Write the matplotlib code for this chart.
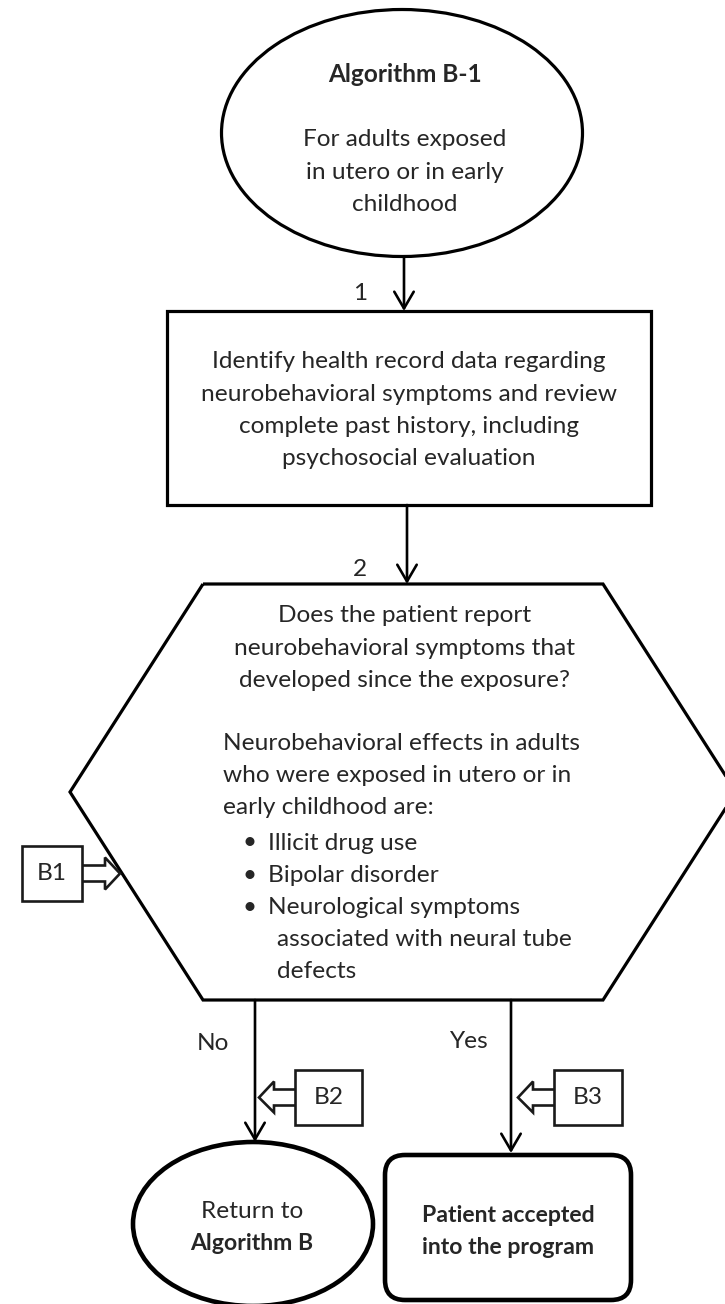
import matplotlib
matplotlib.use("Agg")
import matplotlib.pyplot as plt
from matplotlib.patches import Ellipse, Rectangle, FancyBboxPatch, Polygon

plt.rcParams["font.family"] = ["Lato", "DejaVu Sans"]

# texts of the flowchart
START_TITLE = "Algorithm B-1"
START_LINES = ["For adults exposed", "in utero or in early", "childhood"]
STEP1_LINES = ["Identify health record data regarding",
               "neurobehavioral symptoms and review",
               "complete past history, including",
               "psychosocial evaluation"]
QUESTION_LINES = ["Does the patient report",
                  "neurobehavioral symptoms that",
                  "developed since the exposure?"]
EFFECTS_LINES = ["Neurobehavioral effects in adults",
                 "who were exposed in utero or in",
                 "early childhood are:"]
BULLETS = [["Illicit drug use"], ["Bipolar disorder"],
           ["Neurological symptoms", "associated with neural tube", "defects"]]
STEP_LABELS = ["1", "2"]
BRANCH_LABELS = ["No", "Yes"]
REF_LABELS = ["B1", "B2", "B3"]
RETURN_LINES = ["Return to", "Algorithm B"]
ACCEPT_LINES = ["Patient accepted", "into the program"]

TXT = "#262626"
FS = 17.6
FS_END = 16.6  # bold text of the two end shapes
LH = 32.2

fig = plt.figure(figsize=(7.25, 13.04), dpi=100)
ax = fig.add_axes([0, 0, 1, 1])
ax.set_xlim(0, 725)
ax.set_ylim(1304, 0)
ax.axis("off")


def lines(x, y0, items, ha="center", weight="normal", fs=FS):
    for i, s in enumerate(items):
        ax.text(x, y0 + i * LH, s, ha=ha, va="center", fontsize=fs,
                color=TXT, fontweight=weight)


def arrow(x, y0, y1):
    ax.annotate("", xy=(x, y1), xytext=(x, y0),
                arrowprops=dict(arrowstyle="->,head_length=0.6,head_width=0.35",
                                lw=1.9, color="black", shrinkA=0, shrinkB=0,
                                mutation_scale=20))


def ref_box(label, x0, y0, w, h, side, tip_x):
    # box plus hollow block arrow
    ax.add_patch(Rectangle((x0, y0), w, h, fill=False, lw=1.9, ec="#1a1a1a"))
    yc = y0 + h / 2
    if side == "left":
        base = x0 - 21
        pts = [(x0, yc - 8), (base, yc - 8), (base, yc - 16), (tip_x, yc),
               (base, yc + 15), (base, yc + 8), (x0, yc + 8)]
    else:
        xr = x0 + w
        base = tip_x - 15
        pts = [(xr, yc - 8), (base, yc - 8), (base, yc - 16), (tip_x, yc),
               (base, yc + 16), (base, yc + 8), (xr, yc + 8)]
    ax.add_patch(Polygon(pts, closed=False, fill=False, lw=1.9, ec="#1a1a1a"))
    ax.text(x0 + w / 2, yc, label, ha="center", va="center", fontsize=FS, color=TXT)


# start oval
ax.add_patch(Ellipse((402, 133), 361, 247, fill=False, lw=2.3, ec="black"))
ax.text(405, 75, START_TITLE, ha="center", va="center", fontsize=FS,
        color=TXT, fontweight="bold")
lines(405, 140, START_LINES)

arrow(404, 257, 311)
ax.text(360, 294, STEP_LABELS[0], ha="center", va="center", fontsize=FS, color=TXT)

# step 1 box
ax.add_patch(Rectangle((167, 311), 484, 194, fill=False, lw=2.3, ec="black"))
lines(409, 362, STEP1_LINES)

arrow(407, 505, 584)
ax.text(360, 570, STEP_LABELS[1], ha="center", va="center", fontsize=FS, color=TXT)

# decision hexagon (right vertex runs off the page)
hexa = [(203, 584), (603, 584), (736, 792), (603, 1000), (203, 1000), (70, 792)]
ax.add_patch(Polygon(hexa, closed=True, fill=False, lw=2.3, ec="black",
                     clip_on=True))
lines(405, 616, QUESTION_LINES)
lines(223, 743, EFFECTS_LINES, ha="left")
y = 843
for item in BULLETS:
    ax.text(250, y, "\u2022", ha="center", va="center", fontsize=FS, color=TXT)
    ax.text(268, y, item[0], ha="left", va="center", fontsize=FS, color=TXT)
    for k, cont in enumerate(item[1:]):
        ax.text(277, y + (k + 1) * LH, cont, ha="left", va="center",
                fontsize=FS, color=TXT)
    y += LH * len(item)

ref_box(REF_LABELS[0], 22, 846, 60, 55, "right", 120)

# branches
arrow(255, 1000, 1142)
arrow(511, 1000, 1153)
ax.text(213, 1043, BRANCH_LABELS[0], ha="center", va="center", fontsize=FS, color=TXT)
ax.text(468, 1042, BRANCH_LABELS[1], ha="center", va="center", fontsize=FS, color=TXT)
ref_box(REF_LABELS[1], 295, 1070, 67, 55, "left", 259)
ref_box(REF_LABELS[2], 554, 1070, 68, 55, "left", 518)

# end shapes
ax.add_patch(Ellipse((253, 1224), 240, 164, fill=False, lw=3.3, ec="black"))
lines(252, 1211, RETURN_LINES[:1])
ax.text(252, 1243, RETURN_LINES[1], ha="center", va="center", fontsize=FS_END,
        color=TXT, fontweight="bold")

ax.add_patch(FancyBboxPatch((385, 1155), 246, 145,
                            boxstyle="round,pad=0,rounding_size=20",
                            fill=False, lw=3.3, ec="black"))
lines(508, 1215, ACCEPT_LINES, weight="bold", fs=FS_END)

fig.savefig("out.png", dpi=100)
